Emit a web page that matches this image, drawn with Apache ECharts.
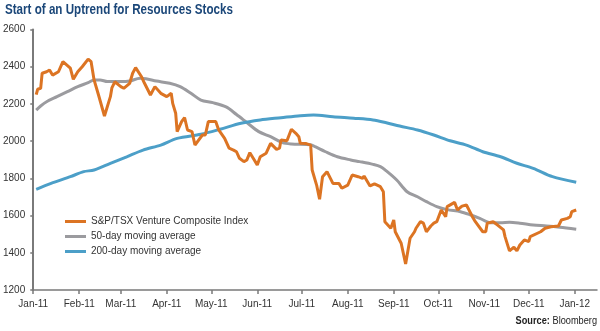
<!DOCTYPE html>
<html>
<head>
<meta charset="utf-8">
<script src="https://cdn.jsdelivr.net/npm/echarts@6/dist/echarts.min.js"></script>
<style>
html,body{margin:0;padding:0;background:#fff;}
#c{width:600px;height:331px;}
</style>
</head>
<body>
<div id="c"></div>
<script>
var FONT = "'Liberation Sans Narrow', 'Arial Narrow', 'Liberation Sans', sans-serif";

var titleText = 'Start of an Uptrend for Resources Stocks';
var seriesNames = ['S&P/TSX Venture Composite Index', '50-day moving average', '200-day moving average'];
var monthTicks = ['2011-01-01','2011-02-01','2011-03-01','2011-04-01','2011-05-01','2011-06-01','2011-07-01','2011-08-01','2011-09-01','2011-10-01','2011-11-01','2011-12-01','2012-01-01'];
var monthNames = ['Jan','Feb','Mar','Apr','May','Jun','Jul','Aug','Sep','Oct','Nov','Dec'];
var yTicks = [1200, 1400, 1600, 1800, 2000, 2200, 2400, 2600];

var indexDates = ['2011-01-03','2011-01-04','2011-01-06','2011-01-07','2011-01-10','2011-01-12','2011-01-14','2011-01-18','2011-01-21','2011-01-26','2011-01-28','2011-01-31',
'2011-02-03','2011-02-07','2011-02-09','2011-02-11','2011-02-14','2011-02-15','2011-02-18','2011-02-22','2011-02-23','2011-02-25',
'2011-03-01','2011-03-03','2011-03-07','2011-03-09','2011-03-11','2011-03-15','2011-03-17','2011-03-21','2011-03-24','2011-03-28','2011-03-29',
'2011-04-01','2011-04-04','2011-04-05','2011-04-07','2011-04-08','2011-04-11','2011-04-13','2011-04-15','2011-04-18','2011-04-20','2011-04-25','2011-04-27','2011-04-29',
'2011-05-04','2011-05-06','2011-05-10','2011-05-13','2011-05-16','2011-05-18','2011-05-20','2011-05-23','2011-05-25','2011-05-27','2011-05-30',
'2011-06-01','2011-06-03','2011-06-07','2011-06-10','2011-06-14','2011-06-16','2011-06-17','2011-06-21','2011-06-24','2011-06-27','2011-06-29','2011-06-30',
'2011-07-04','2011-07-07','2011-07-08','2011-07-11','2011-07-13','2011-07-15','2011-07-18','2011-07-19','2011-07-22','2011-07-26','2011-07-28',
'2011-08-01','2011-08-04','2011-08-08','2011-08-11','2011-08-12','2011-08-16','2011-08-19','2011-08-23','2011-08-25','2011-08-26','2011-08-30',
'2011-09-01','2011-09-02','2011-09-06','2011-09-09','2011-09-12','2011-09-13','2011-09-15','2011-09-16','2011-09-19','2011-09-21','2011-09-23','2011-09-26','2011-09-28','2011-09-30',
'2011-10-03','2011-10-04','2011-10-06','2011-10-07','2011-10-12','2011-10-14','2011-10-17','2011-10-20','2011-10-24','2011-10-26','2011-10-31',
'2011-11-02','2011-11-03','2011-11-07','2011-11-10','2011-11-14','2011-11-15','2011-11-18','2011-11-21','2011-11-23','2011-11-25','2011-11-28',
'2011-12-01','2011-12-02','2011-12-09','2011-12-12','2011-12-16','2011-12-21','2011-12-23','2011-12-27','2011-12-29','2011-12-30','2012-01-02'];
var indexValues = [2250,2279,2284,2365,2373,2382,2355,2373,2427,2392,2332,2373,
2400,2441,2427,2329,2248,2257,2135,2239,2286,2319,
2293,2284,2311,2365,2395,2346,2311,2248,2293,2257,2266,
2239,2257,2203,2150,2051,2105,2127,2060,2051,1979,2033,2033,2105,
2105,2060,2015,1962,1952,1943,1908,1890,1899,1938,1899,
1872,1916,1935,1988,1956,1962,2006,2002,2064,2042,2024,1988,
1987,1979,1845,1764,1688,1809,1836,1834,1773,1773,1747,
1764,1818,1809,1800,1813,1759,1770,1755,1728,1567,1532,
1576,1513,1451,1340,1478,1487,1513,1532,1567,1559,1513,1544,1559,1567,
1630,1640,1594,1648,1671,1630,1651,1657,1594,1567,1513,
1513,1559,1567,1549,1523,1487,1410,1430,1410,1442,1469,
1460,1487,1513,1532,1540,1544,1576,1585,1594,1621,1630];

var ma50Dates = ['2011-01-03','2011-01-06','2011-01-10','2011-01-17','2011-01-24','2011-01-31','2011-02-07','2011-02-11','2011-02-15','2011-02-20',
'2011-03-01','2011-03-07','2011-03-14','2011-03-18','2011-03-25','2011-04-03','2011-04-10','2011-04-17','2011-04-24',
'2011-05-02','2011-05-11','2011-05-18','2011-05-25','2011-06-02','2011-06-10','2011-06-18','2011-06-24','2011-07-07','2011-07-10','2011-07-17','2011-07-25',
'2011-08-03','2011-08-09','2011-08-18','2011-08-23','2011-08-27','2011-09-03','2011-09-10','2011-09-17','2011-09-23','2011-09-30',
'2011-10-07','2011-10-16','2011-10-23','2011-10-29','2011-11-05','2011-11-12','2011-11-18','2011-11-25','2011-12-04','2011-12-13','2011-12-22','2012-01-02'];
var ma50Values = [2167,2189,2212,2239,2266,2293,2314,2329,2329,2320,
2320,2323,2338,2335,2323,2311,2293,2259,2221,
2207,2184,2143,2100,2051,2024,1992,1985,1981,1970,1943,1916,
1899,1890,1875,1863,1840,1791,1728,1701,1675,1648,
1632,1621,1603,1585,1562,1562,1564,1559,1549,1544,1537,1526];

var ma200Dates = ['2011-01-03','2011-01-13','2011-01-26','2011-02-04','2011-02-11','2011-02-22','2011-03-05','2011-03-16','2011-03-28','2011-04-08','2011-04-24',
'2011-05-07','2011-05-21','2011-06-03','2011-06-17','2011-06-30','2011-07-09','2011-07-22','2011-08-05','2011-08-18','2011-08-27',
'2011-09-05','2011-09-17','2011-09-28','2011-10-09','2011-10-20','2011-10-31','2011-11-12','2011-11-23','2011-12-04','2011-12-17','2012-01-02'];
var ma200Values = [1741,1773,1809,1836,1845,1881,1916,1952,1979,2015,2037,
2064,2096,2114,2126,2137,2141,2131,2123,2114,2099,
2081,2060,2033,2002,1979,1943,1916,1881,1854,1809,1779];

function toTime(s) { var p = s.split('-'); return Date.UTC(+p[0], +p[1] - 1, +p[2]); }
function pairs(d, v) { return d.map(function (x, i) { return [toTime(x), v[i]]; }); }
var tickTimes = monthTicks.map(toTime);

var chart = echarts.init(document.getElementById('c'), null, { renderer: 'canvas' });
chart.setOption({
  animation: false,
  backgroundColor: '#ffffff',
  textStyle: { fontFamily: FONT },
  legend: {
    data: seriesNames,
    orient: 'vertical',
    left: 65, top: 215, padding: 0,
    itemWidth: 21, itemHeight: 3, itemGap: 2,
    icon: 'rect',
    textStyle: { fontFamily: FONT, fontSize: 10, color: '#333', lineHeight: 13 }
  },
  grid: { left: 32, right: 3, top: 29.5, bottom: 41, containLabel: false },
  xAxis: {
    type: 'value',
    min: toTime('2011-01-01'),
    max: toTime('2012-01-16'),
    axisLine: { show: true, onZero: false, lineStyle: { color: '#7a7a7a', width: 1.5 } },
    axisTick: { show: true, length: 4, lineStyle: { color: '#7a7a7a', width: 1.5 }, customValues: tickTimes },
    axisLabel: {
      customValues: tickTimes,
      fontFamily: FONT, fontSize: 10, color: '#333', margin: 9,
      formatter: function (val) {
        var d = new Date(val);
        return monthNames[d.getUTCMonth()] + '-' + String(d.getUTCFullYear()).slice(2);
      }
    },
    splitLine: { show: false }
  },
  yAxis: {
    type: 'value',
    min: yTicks[0], max: yTicks[yTicks.length - 1], interval: 200,
    axisLine: { show: true, lineStyle: { color: '#7a7a7a', width: 2 } },
    axisTick: { show: true, length: 3, lineStyle: { color: '#7a7a7a', width: 1.5 } },
    axisLabel: { fontFamily: FONT, fontSize: 10, color: '#333', margin: 8, formatter: function (v) { return String(v); } },
    splitLine: { show: false }
  },
  series: [
    {
      name: seriesNames[1], type: 'line', data: pairs(ma50Dates, ma50Values),
      showSymbol: false, smooth: 0.3, z: 2,
      lineStyle: { color: '#9b9b9f', width: 3 }, itemStyle: { color: '#9b9b9f' }
    },
    {
      name: seriesNames[2], type: 'line', data: pairs(ma200Dates, ma200Values),
      showSymbol: false, smooth: 0.3, z: 2,
      lineStyle: { color: '#4c9fc8', width: 3 }, itemStyle: { color: '#4c9fc8' }
    },
    {
      name: seriesNames[0], type: 'line', data: pairs(indexDates, indexValues),
      showSymbol: false, z: 3,
      lineStyle: { color: '#dc7423', width: 3 }, itemStyle: { color: '#dc7423' }
    }
  ],
  graphic: [
    {
      type: 'text',
      x: 5, y: 3, scaleX: 0.83,
      style: {
        text: titleText,
        font: 'bold 14px ' + FONT,
        fill: '#1b4779',
        verticalAlign: 'top', align: 'left'
      }
    },
    {
      type: 'text',
      x: 597, y: 315, scaleX: 0.8,
      style: {
        text: '{b|Source:} {n|Bloomberg}',
        align: 'right', verticalAlign: 'top',
        rich: {
          b: { fontFamily: FONT, fontSize: 11.5, fontWeight: 'bold', fill: '#222' },
          n: { fontFamily: FONT, fontSize: 11.5, fill: '#222' }
        }
      }
    }
  ]
});
</script>
</body>
</html>
